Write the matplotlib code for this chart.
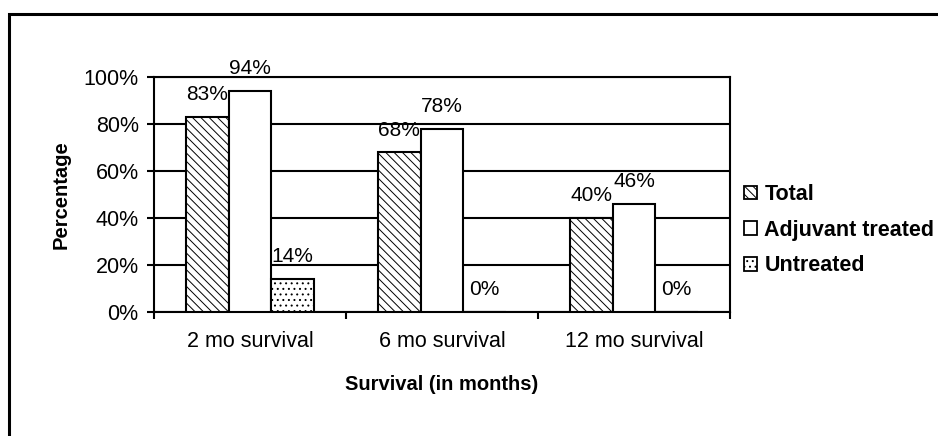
import matplotlib
matplotlib.use("Agg")
import matplotlib.pyplot as plt
from matplotlib.patches import Rectangle
import numpy as np

categories = ["2 mo survival", "6 mo survival", "12 mo survival"]
series_names = ["Total", "Adjuvant treated", "Untreated"]
total = [83, 68, 40]
adjuvant = [94, 78, 46]
untreated = [14, 0, 0]
y_ticks = [0, 20, 40, 60, 80, 100]

plt.rcParams['font.family'] = ['Liberation Sans', 'DejaVu Sans']
plt.rcParams['hatch.linewidth'] = 0.7
plt.rcParams['hatch.color'] = 'black'

W, H = 938, 436
fig = plt.figure(figsize=(W/100, H/100), dpi=100)
ax = fig.add_axes([154/W, 1-312/H, (730-154)/W, (312-77)/H])

x = np.arange(len(categories))
bw = 0.222
hatches = ['\\\\\\\\', None, '...']
all_series = [total, adjuvant, untreated]
LW = 1.5
for i, (vals, name, hatch) in enumerate(zip(all_series, series_names, hatches)):
    pos = x + (i-1)*bw
    ax.bar(pos, vals, bw, facecolor='white', edgecolor='black', linewidth=LW,
           hatch=hatch, label=name, zorder=3)
    for p, v in zip(pos, vals):
        ax.annotate(f"{v}%", (p, v), xytext=(0, 12), textcoords='offset points',
                    ha='center', va='baseline', fontsize=15, clip_on=False, zorder=5)

ax.set_xlim(-0.5, 2.5)
ax.set_ylim(0, 100)
ax.set_yticks(y_ticks)
ax.set_yticklabels([f"{t}%" for t in y_ticks], fontsize=15.5)
ax.yaxis.grid(True, color='black', linewidth=LW, zorder=0)
ax.set_axisbelow(True)

ax.set_xticks(x)
ax.set_xticklabels(categories, fontsize=15.5)
ax.set_xticks([-0.5, 0.5, 1.5, 2.5], minor=True)
ax.tick_params(axis='x', which='major', length=0, pad=14)
ax.tick_params(axis='x', which='minor', length=5, width=LW, direction='out')
ax.tick_params(axis='y', length=5, width=LW, direction='out', pad=6)
for s in ax.spines.values():
    s.set_linewidth(LW)
    s.set_color('black')

ax.set_ylabel("Percentage", fontsize=14.5, fontweight='bold', labelpad=9)
ax.set_xlabel("Survival (in months)", fontsize=14.5, fontweight='bold', labelpad=16)

leg = ax.legend(loc='upper left', bbox_to_anchor=(744/W, 1-184/H), bbox_transform=fig.transFigure,
                frameon=False, fontsize=15.5, handlelength=0.6, handleheight=0.6,
                handletextpad=0.35, labelspacing=0.68, borderpad=0, borderaxespad=0)
for t in leg.get_texts():
    t.set_fontweight('bold')
for h in leg.legend_handles:
    h.set_linewidth(1.3)

fig.patches.append(Rectangle((8.7/W, -0.2), 1.2, (1-13.5/H)+0.2, transform=fig.transFigure,
                             fill=False, edgecolor='black', linewidth=2.2, zorder=10))

fig.savefig("out.png", dpi=100)
